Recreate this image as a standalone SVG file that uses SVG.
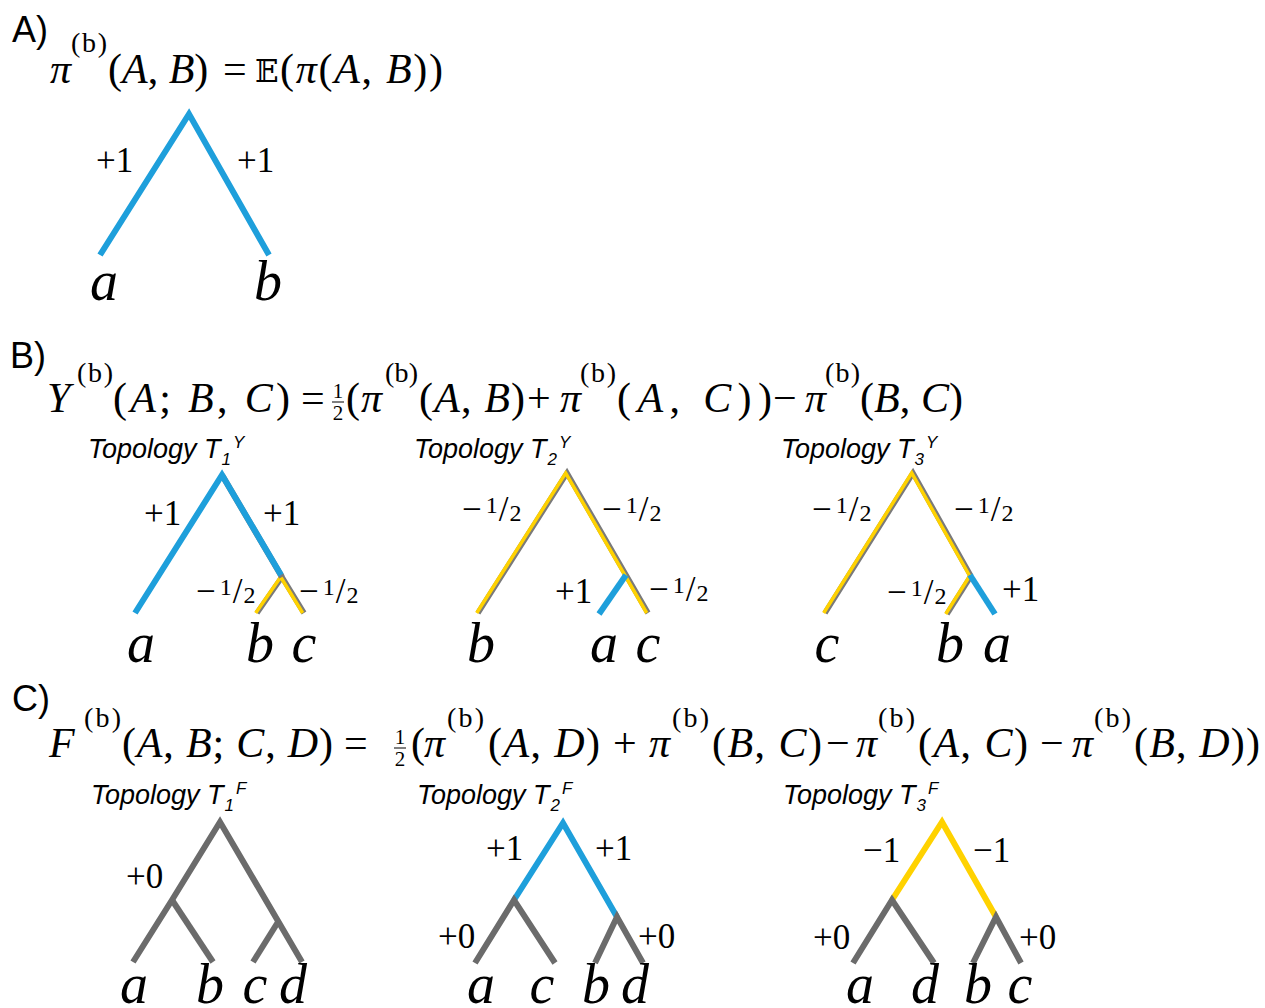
<svg xmlns="http://www.w3.org/2000/svg" width="1265" height="1008" viewBox="0 0 1265 1008">
<style>
.sec{font-family:"Liberation Sans",Arial,sans-serif;font-size:36px;fill:#000}
.m{font-family:"Liberation Serif","Times New Roman",serif;font-size:42px;fill:#000}
.it{font-style:italic}
.sup{font-family:"Liberation Serif","Times New Roman",serif;font-size:28px;fill:#000}
.fr{font-family:"Liberation Serif","Times New Roman",serif;font-size:21px;fill:#000;text-anchor:middle}
.bb{font-family:"DejaVu Serif","DejaVu Sans",serif;font-size:31px;fill:#000}
.lab{font-family:"Liberation Serif","Times New Roman",serif;font-size:35px;fill:#000}
.sm{font-size:24px}
.leaf{font-family:"Liberation Serif","Times New Roman",serif;font-style:italic;font-size:56px;fill:#000;text-anchor:middle}
.topo{font-family:"Liberation Sans",Arial,sans-serif;font-style:italic;font-size:27px;fill:#000}
.ts{font-size:17px}
.br{fill:none;stroke-linejoin:miter;stroke-miterlimit:10;stroke-linecap:butt}
.blue{stroke:#1E9FDB;stroke-width:6}
.gray{stroke:#6B6B6B;stroke-width:6}
.yel{stroke:#FFD200;stroke-width:6}
.ysh{stroke:#7A7A7A;stroke-width:5.5}
.ytop{stroke:#FFD200;stroke-width:3.5}
.bsh{stroke:#7A7A7A;stroke-width:6}
</style>

<!-- Section headers -->
<g id="hdr-A"><text class="sec" x="12" y="42">A)</text></g>
<g id="hdr-B"><text class="sec" x="10" y="368">B)</text></g>
<g id="hdr-C"><text class="sec" x="12" y="711">C)</text></g>

<!-- Formula A -->
<g id="formula-A">
<text class="m it" x="50" y="83">π</text>
<text class="sup" x="71" y="52" textLength="36" lengthAdjust="spacing">(b)</text>
<text class="m" x="108" y="83">(<tspan class="it">A</tspan>, <tspan class="it">B</tspan>)</text>
<text class="m" x="223" y="83">=</text>
<text class="bb" x="255" y="82">𝔼</text>
<text class="m" x="280" y="83" textLength="163" lengthAdjust="spacing">(<tspan class="it">π</tspan>(<tspan class="it">A</tspan>, <tspan class="it">B</tspan>))</text>
</g>

<!-- Formula B -->
<g id="formula-B">
<text class="m it" x="47" y="412">Y</text>
<text class="sup" x="77" y="382" textLength="36" lengthAdjust="spacing">(b)</text>
<text class="m" x="113" y="412" textLength="177" lengthAdjust="spacing">(<tspan class="it">A</tspan>; <tspan class="it">B</tspan>, <tspan class="it">C</tspan>)</text>
<text class="m" x="301" y="412">=</text>
<text class="fr" x="338" y="398">1</text>
<line x1="332" y1="402" x2="344" y2="402" stroke="#000" stroke-width="1"/>
<text class="fr" x="338" y="420">2</text>
<text class="m" x="346" y="412">(</text>
<text class="m it" x="361" y="412">π</text>
<text class="sup" x="385" y="382" textLength="33" lengthAdjust="spacing">(b)</text>
<text class="m" x="419" y="412" textLength="106" lengthAdjust="spacing">(<tspan class="it">A</tspan>, <tspan class="it">B</tspan>)</text>
<text class="m" x="527" y="412">+</text>
<text class="m it" x="560" y="412">π</text>
<text class="sup" x="580" y="382" textLength="36" lengthAdjust="spacing">(b)</text>
<text class="m" x="617" y="412" textLength="155" lengthAdjust="spacing">(<tspan class="it">A</tspan>, <tspan class="it">C</tspan>))</text>
<text class="m" x="773" y="412">−</text>
<text class="m it" x="805" y="412">π</text>
<text class="sup" x="825" y="382" textLength="35" lengthAdjust="spacing">(b)</text>
<text class="m" x="860" y="412" textLength="103" lengthAdjust="spacing">(<tspan class="it">B</tspan>, <tspan class="it">C</tspan>)</text>
</g>

<!-- Formula C -->
<g id="formula-C">
<text class="m it" x="49" y="757">F</text>
<text class="sup" x="84" y="727" textLength="37" lengthAdjust="spacing">(b)</text>
<text class="m" x="122" y="757" textLength="211" lengthAdjust="spacing">(<tspan class="it">A</tspan>, <tspan class="it">B</tspan>; <tspan class="it">C</tspan>, <tspan class="it">D</tspan>)</text>
<text class="m" x="344" y="757">=</text>
<text class="fr" x="400" y="744">1</text>
<line x1="394" y1="748" x2="406" y2="748" stroke="#000" stroke-width="1"/>
<text class="fr" x="400" y="766">2</text>
<text class="m" x="411" y="757">(</text>
<text class="m it" x="424" y="757">π</text>
<text class="sup" x="447" y="727" textLength="37" lengthAdjust="spacing">(b)</text>
<text class="m" x="488" y="757" textLength="112" lengthAdjust="spacing">(<tspan class="it">A</tspan>, <tspan class="it">D</tspan>)</text>
<text class="m" x="613" y="757">+</text>
<text class="m it" x="649" y="757">π</text>
<text class="sup" x="672" y="727" textLength="37" lengthAdjust="spacing">(b)</text>
<text class="m" x="712" y="757" textLength="110" lengthAdjust="spacing">(<tspan class="it">B</tspan>, <tspan class="it">C</tspan>)</text>
<text class="m" x="826" y="757">−</text>
<text class="m it" x="856" y="757">π</text>
<text class="sup" x="878" y="727" textLength="37" lengthAdjust="spacing">(b)</text>
<text class="m" x="918" y="757" textLength="110" lengthAdjust="spacing">(<tspan class="it">A</tspan>, <tspan class="it">C</tspan>)</text>
<text class="m" x="1040" y="757">−</text>
<text class="m it" x="1072" y="757">π</text>
<text class="sup" x="1094" y="727" textLength="37" lengthAdjust="spacing">(b)</text>
<text class="m" x="1134" y="757" textLength="126" lengthAdjust="spacing">(<tspan class="it">B</tspan>, <tspan class="it">D</tspan>))</text>
</g>

<!-- Topology titles -->
<g id="title-T1Y"><text class="topo" x="88" y="458">Topology T<tspan class="ts" dx="1" dy="7">1</tspan><tspan class="ts" dx="2" dy="-17">Y</tspan></text></g>
<g id="title-T2Y"><text class="topo" x="414" y="458">Topology T<tspan class="ts" dx="1" dy="7">2</tspan><tspan class="ts" dx="2" dy="-17">Y</tspan></text></g>
<g id="title-T3Y"><text class="topo" x="781" y="458">Topology T<tspan class="ts" dx="1" dy="7">3</tspan><tspan class="ts" dx="2" dy="-17">Y</tspan></text></g>
<g id="title-T1F"><text class="topo" x="91" y="804">Topology T<tspan class="ts" dx="1" dy="7">1</tspan><tspan class="ts" dx="2" dy="-17">F</tspan></text></g>
<g id="title-T2F"><text class="topo" x="417" y="804">Topology T<tspan class="ts" dx="1" dy="7">2</tspan><tspan class="ts" dx="2" dy="-17">F</tspan></text></g>
<g id="title-T3F"><text class="topo" x="783" y="804">Topology T<tspan class="ts" dx="1" dy="7">3</tspan><tspan class="ts" dx="2" dy="-17">F</tspan></text></g>

<!-- Connectors (tree branches) -->
<g id="connectors">
  <!-- A -->
  <path class="br blue" d="M100,255 L189,114 L269,255"/>
  <!-- T1Y -->
  <path class="br ysh" d="M257,613 L282,577 L304,613"/>
  <path class="br ytop" transform="translate(-1.3,0)" d="M257,613 L282,577 L304,613"/>
  <path class="br bsh" d="M222,475 L282,577"/>
  <path class="br blue" d="M135,613 L222,475 L281,575"/>
  <!-- T2Y -->
  <path class="br ysh" d="M478,613 L567,473 L648,613"/>
  <path class="br ytop" transform="translate(-1.3,0)" d="M478,613 L567,473 L648,613"/>
  <path class="br blue" d="M626,575 L599,614"/>
  <!-- T3Y -->
  <path class="br ysh" d="M825,613 L913,473 L971,576"/>
  <path class="br ytop" transform="translate(-1.3,0)" d="M825,613 L913,473 L971,576"/>
  <path class="br ysh" d="M947,614 L971,576"/>
  <path class="br ytop" transform="translate(-1.3,0)" d="M947,614 L971,576"/>
  <path class="br blue" d="M970,575 L995,614"/>
  <!-- T1F -->
  <path class="br gray" d="M133,962 L172,900 L220,822 L302,962"/>
  <path class="br gray" d="M172,900 L213,962"/>
  <path class="br gray" d="M278,922 L253,962"/>
  <!-- T2F -->
  <path class="br blue" d="M514,900 L563,823 L617,917"/>
  <path class="br gray" d="M475,963 L514,900 L555,963"/>
  <path class="br gray" d="M595,963 L617,917 L643,963"/>
  <!-- T3F -->
  <path class="br yel" d="M892,900 L942,822 L996,917"/>
  <path class="br gray" d="M853,963 L892,900 L934,963"/>
  <path class="br gray" d="M973,963 L996,917 L1021,963"/>
</g>

<!-- Branch labels -->
<g id="labels-A">
<text class="lab" x="96" y="172">+1</text>
<text class="lab" x="237" y="172">+1</text>
</g>
<g id="labels-T1Y">
<text class="lab" x="144" y="525">+1</text>
<text class="lab" x="263" y="525">+1</text>
<text class="lab" x="196" y="603">−<tspan class="sm" dx="4" dy="-8">1</tspan><tspan dx="1" dy="8">/</tspan><tspan class="sm" dx="1">2</tspan></text>
<text class="lab" x="299" y="603">−<tspan class="sm" dx="4" dy="-8">1</tspan><tspan dx="1" dy="8">/</tspan><tspan class="sm" dx="1">2</tspan></text>
</g>
<g id="labels-T2Y">
<text class="lab" x="462" y="521">−<tspan class="sm" dx="4" dy="-8">1</tspan><tspan dx="1" dy="8">/</tspan><tspan class="sm" dx="1">2</tspan></text>
<text class="lab" x="602" y="521">−<tspan class="sm" dx="4" dy="-8">1</tspan><tspan dx="1" dy="8">/</tspan><tspan class="sm" dx="1">2</tspan></text>
<text class="lab" x="555" y="603">+1</text>
<text class="lab" x="649" y="601">−<tspan class="sm" dx="4" dy="-8">1</tspan><tspan dx="1" dy="8">/</tspan><tspan class="sm" dx="1">2</tspan></text>
</g>
<g id="labels-T3Y">
<text class="lab" x="812" y="521">−<tspan class="sm" dx="4" dy="-8">1</tspan><tspan dx="1" dy="8">/</tspan><tspan class="sm" dx="1">2</tspan></text>
<text class="lab" x="954" y="521">−<tspan class="sm" dx="4" dy="-8">1</tspan><tspan dx="1" dy="8">/</tspan><tspan class="sm" dx="1">2</tspan></text>
<text class="lab" x="887" y="604">−<tspan class="sm" dx="4" dy="-8">1</tspan><tspan dx="1" dy="8">/</tspan><tspan class="sm" dx="1">2</tspan></text>
<text class="lab" x="1002" y="601">+1</text>
</g>
<g id="labels-T1F">
<text class="lab" x="126" y="888">+0</text>
</g>
<g id="labels-T2F">
<text class="lab" x="486" y="860">+1</text>
<text class="lab" x="595" y="860">+1</text>
<text class="lab" x="438" y="948">+0</text>
<text class="lab" x="638" y="948">+0</text>
</g>
<g id="labels-T3F">
<text class="lab" x="863" y="862">−1</text>
<text class="lab" x="973" y="862">−1</text>
<text class="lab" x="813" y="949">+0</text>
<text class="lab" x="1019" y="949">+0</text>
</g>

<!-- Leaf nodes -->
<g id="leaf-A-a"><text class="leaf" x="104" y="300">a</text></g>
<g id="leaf-A-b"><text class="leaf" x="268" y="300">b</text></g>
<g id="leaf-T1Y-a"><text class="leaf" x="141" y="662">a</text></g>
<g id="leaf-T1Y-b"><text class="leaf" x="260" y="662">b</text></g>
<g id="leaf-T1Y-c"><text class="leaf" x="304" y="662">c</text></g>
<g id="leaf-T2Y-b"><text class="leaf" x="481" y="662">b</text></g>
<g id="leaf-T2Y-a"><text class="leaf" x="604" y="662">a</text></g>
<g id="leaf-T2Y-c"><text class="leaf" x="648" y="662">c</text></g>
<g id="leaf-T3Y-c"><text class="leaf" x="827" y="662">c</text></g>
<g id="leaf-T3Y-b"><text class="leaf" x="950" y="662">b</text></g>
<g id="leaf-T3Y-a"><text class="leaf" x="997" y="662">a</text></g>
<g id="leaf-T1F-a"><text class="leaf" x="134" y="1003">a</text></g>
<g id="leaf-T1F-b"><text class="leaf" x="210" y="1003">b</text></g>
<g id="leaf-T1F-c"><text class="leaf" x="255" y="1003">c</text></g>
<g id="leaf-T1F-d"><text class="leaf" x="293" y="1003">d</text></g>
<g id="leaf-T2F-a"><text class="leaf" x="481" y="1003">a</text></g>
<g id="leaf-T2F-c"><text class="leaf" x="542" y="1003">c</text></g>
<g id="leaf-T2F-b"><text class="leaf" x="596" y="1003">b</text></g>
<g id="leaf-T2F-d"><text class="leaf" x="635" y="1003">d</text></g>
<g id="leaf-T3F-a"><text class="leaf" x="860" y="1003">a</text></g>
<g id="leaf-T3F-d"><text class="leaf" x="925" y="1003">d</text></g>
<g id="leaf-T3F-b"><text class="leaf" x="978" y="1003">b</text></g>
<g id="leaf-T3F-c"><text class="leaf" x="1020" y="1003">c</text></g>
</svg>
